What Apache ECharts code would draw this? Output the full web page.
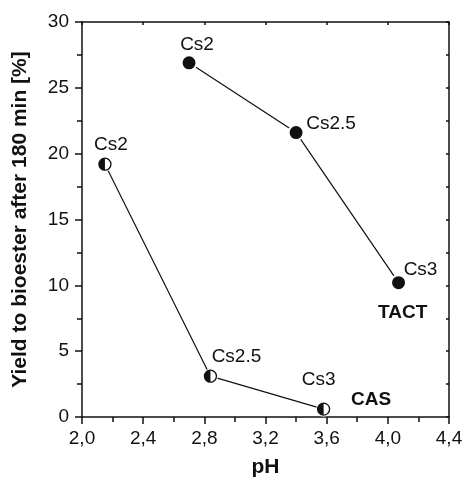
<!DOCTYPE html>
<html>
<head>
<meta charset="utf-8">
<script src="https://cdn.jsdelivr.net/npm/echarts@6/dist/echarts.min.js"></script>
<style>
  html, body { margin: 0; padding: 0; background: #fff; }
  #chart { width: 463px; height: 479px; }
</style>
</head>
<body>
<div id="chart"></div>
<script>
// values
var pointNames = ['Cs2', 'Cs2.5', 'Cs3'];
var tactPH = [2.70, 3.40, 4.07];
var tactYield = [26.9, 21.6, 10.2];
var casPH = [2.15, 2.84, 3.58];
var casYield = [19.2, 3.1, 0.6];

var FONT = '"Liberation Sans", Arial, sans-serif';

// label offsets (pixels from the marker centre)
var tactLabelOffsets = [[8, -18], [35, -9], [22, -13]];
var casLabelOffsets = [[6, -19], [26, -19], [-5, -29]];

function pairs(xs, ys, offsets) {
	var out = [];
	for (var i = 0; i < xs.length; i++) {
		var item = { value: [xs[i], ys[i]], name: pointNames[i] };
		if (offsets) {
			item.label = { show: true, position: 'inside', offset: offsets[i] };
		}
		out.push(item);
	}
	return out;
}

var labelStyle = {
	show: true,
	formatter: '{b}',
	color: '#111',
	fontFamily: FONT,
	fontSize: 19
};

var halfDisk = 'path://M10,0 A10,10 0 0,0 10,20 Z';

var option = {
	animation: false,
	backgroundColor: '#fff',
	grid: { left: 82, right: 14, top: 22, bottom: 62, outerBoundsMode: 'none', containLabel: false },
	xAxis: [{
		type: 'value',
		min: 2.0, max: 4.4, interval: 0.4,
		name: 'pH', nameLocation: 'middle', nameGap: 40,
		nameTextStyle: { fontFamily: FONT, fontSize: 21, fontWeight: 'bold', color: '#111' },
		axisLine: { onZero: false, lineStyle: { color: '#111', width: 1.5 } },
		axisTick: { length: 7, lineStyle: { color: '#111', width: 1.5 } },
		minorTick: { show: true, splitNumber: 2, length: 5, lineStyle: { color: '#111', width: 1.5 } },
		axisLabel: {
			fontFamily: FONT, fontSize: 19, color: '#111', margin: 12,
			formatter: function (v) { return v.toFixed(1).replace('.', ','); }
		},
		splitLine: { show: false }
	}, {
		type: 'value', position: 'top',
		min: 2.0, max: 4.4, interval: 0.4,
		axisLine: { onZero: false, lineStyle: { color: '#111', width: 1.5 } },
		axisTick: { inside: true, length: 3, lineStyle: { color: '#111', width: 1.5 } },
		minorTick: { show: false },
		axisLabel: { show: false },
		splitLine: { show: false }
	}],
	yAxis: [{
		type: 'value',
		min: 0, max: 30, interval: 5,
		name: 'Yield to bioester after 180 min [%]',
		nameLocation: 'middle', nameGap: 51,
		nameTextStyle: { fontFamily: FONT, fontSize: 21, fontWeight: 'bold', color: '#111' },
		axisLine: { show: true, onZero: false, lineStyle: { color: '#111', width: 1.5 } },
		axisTick: { show: true, length: 7, lineStyle: { color: '#111', width: 1.5 } },
		minorTick: { show: true, splitNumber: 2, length: 5, lineStyle: { color: '#111', width: 1.5 } },
		axisLabel: { fontFamily: FONT, fontSize: 19, color: '#111', margin: 13 },
		splitLine: { show: false }
	}, {
		type: 'value', position: 'right',
		min: 0, max: 30, interval: 5,
		axisLine: { show: true, onZero: false, lineStyle: { color: '#111', width: 1.5 } },
		axisTick: { show: true, inside: true, length: 3, lineStyle: { color: '#111', width: 1.5 } },
		minorTick: { show: true, splitNumber: 2, length: 3, lineStyle: { color: '#111', width: 1.5 } },
		axisLabel: { show: false },
		splitLine: { show: false }
	}],
	series: [{
		// TACT: filled circles
		type: 'line',
		data: pairs(tactPH, tactYield, tactLabelOffsets),
		symbol: 'circle',
		symbolSize: 15,
		lineStyle: { color: '#111', width: 1.2 },
		itemStyle: { color: '#111', borderColor: '#fff', borderWidth: 2 },
		label: labelStyle,
		z: 3
	}, {
		// CAS: line with white halo markers
		type: 'line',
		data: pairs(casPH, casYield, casLabelOffsets),
		symbol: 'circle',
		symbolSize: 15,
		lineStyle: { color: '#111', width: 1.2 },
		itemStyle: { color: '#fff', borderColor: '#fff', borderWidth: 0 },
		label: labelStyle,
		z: 3
	}, {
		// CAS marker outline
		type: 'scatter',
		data: pairs(casPH, casYield),
		symbol: 'circle',
		symbolSize: 12,
		itemStyle: { color: '#fff', borderColor: '#111', borderWidth: 1.3, opacity: 1 },
		z: 4
	}, {
		// CAS marker left half filled
		type: 'scatter',
		data: pairs(casPH, casYield),
		symbol: halfDisk,
		symbolSize: [6, 12],
		symbolOffset: [-3, 0],
		itemStyle: { color: '#111', opacity: 1 },
		z: 5
	}],
	graphic: [{
		type: 'text', left: 378, top: 303,
		style: { text: 'TACT', fontFamily: FONT, fontSize: 19, fontWeight: 'bold', fill: '#111' }
	}, {
		type: 'text', left: 351, top: 390,
		style: { text: 'CAS', fontFamily: FONT, fontSize: 19, fontWeight: 'bold', fill: '#111' }
	}]
};

var chart = echarts.init(document.getElementById('chart'), null, { renderer: 'canvas' });
chart.setOption(option);
</script>
</body>
</html>
